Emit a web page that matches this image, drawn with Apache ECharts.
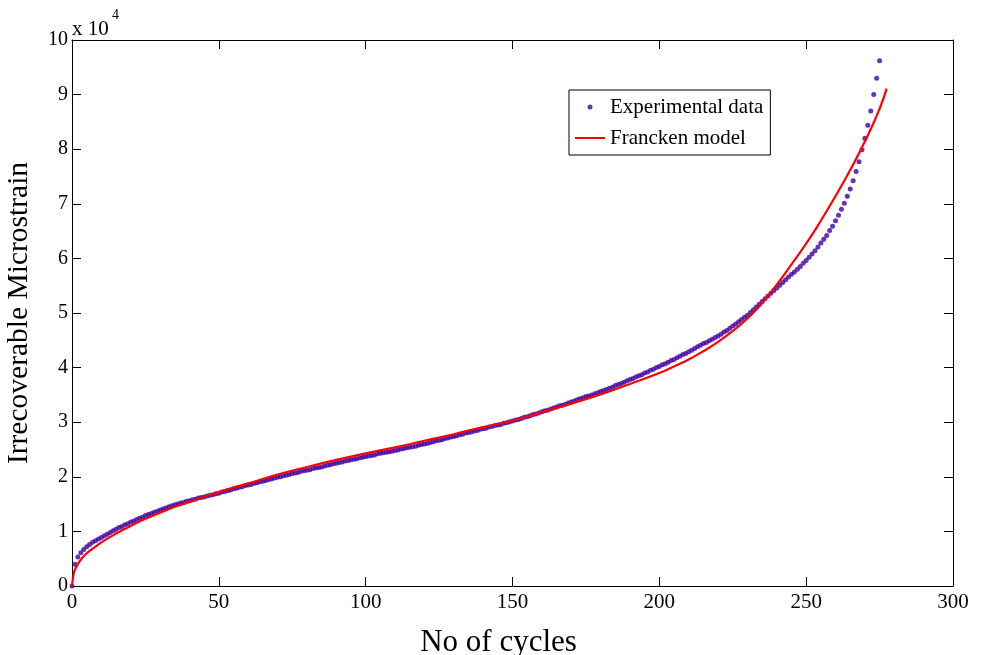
<!DOCTYPE html>
<html>
<head>
<meta charset="utf-8">
<script src="https://cdn.jsdelivr.net/npm/echarts@6/dist/echarts.min.js"></script>
<style>
    html, body { margin: 0; padding: 0; background: #fff; }
    #main { width: 984px; height: 655px; }
</style>
</head>
<body>
<div id="main"></div>
<script>
// experimental data, one dot per cycle (0..275), values in units of 10^4 microstrain
var expStrain = [
    0, 0.40, 0.53, 0.61, 0.67, 0.72, 0.76, 0.80, 0.83, 0.86, 0.89,
    0.92, 0.95, 0.98, 1.01, 1.04, 1.07, 1.09, 1.12, 1.14, 1.17,
    1.19, 1.22, 1.24, 1.26, 1.29, 1.31, 1.33, 1.35, 1.37, 1.39,
    1.41, 1.43, 1.45, 1.47, 1.49, 1.50, 1.52, 1.53, 1.55, 1.56,
    1.58, 1.59, 1.61, 1.62, 1.63, 1.65, 1.66, 1.67, 1.69, 1.70,
    1.72, 1.73, 1.75, 1.76, 1.78, 1.79, 1.81, 1.82, 1.84, 1.85,
    1.86, 1.88, 1.89, 1.91, 1.92, 1.93, 1.95, 1.96, 1.98, 1.99,
    2.00, 2.02, 2.03, 2.04, 2.06, 2.07, 2.08, 2.10, 2.11, 2.12,
    2.13, 2.15, 2.16, 2.17, 2.18, 2.20, 2.21, 2.22, 2.24, 2.25,
    2.26, 2.27, 2.29, 2.30, 2.31, 2.32, 2.33, 2.35, 2.36, 2.37,
    2.38, 2.39, 2.40, 2.42, 2.43, 2.44, 2.45, 2.46, 2.47, 2.48,
    2.49, 2.51, 2.52, 2.53, 2.54, 2.55, 2.56, 2.58, 2.59, 2.60,
    2.61, 2.63, 2.64, 2.66, 2.67, 2.68, 2.70, 2.71, 2.73, 2.74,
    2.75, 2.77, 2.78, 2.80, 2.81, 2.82, 2.84, 2.85, 2.87, 2.88,
    2.89, 2.91, 2.92, 2.94, 2.95, 2.96, 2.98, 2.99, 3.01, 3.02,
    3.04, 3.05, 3.07, 3.09, 3.10, 3.12, 3.14, 3.15, 3.17, 3.19,
    3.21, 3.22, 3.24, 3.26, 3.28, 3.30, 3.31, 3.33, 3.35, 3.37,
    3.39, 3.41, 3.43, 3.45, 3.47, 3.48, 3.50, 3.52, 3.54, 3.56,
    3.58, 3.60, 3.62, 3.64, 3.67, 3.69, 3.71, 3.73, 3.76, 3.78,
    3.80, 3.83, 3.85, 3.87, 3.90, 3.92, 3.95, 3.97, 4.00, 4.02,
    4.05, 4.07, 4.10, 4.13, 4.15, 4.18, 4.21, 4.24, 4.26, 4.29,
    4.32, 4.35, 4.38, 4.41, 4.44, 4.46, 4.49, 4.52, 4.55, 4.58,
    4.61, 4.65, 4.68, 4.72, 4.76, 4.80, 4.84, 4.88, 4.92, 4.96,
    5.01, 5.06, 5.11, 5.16, 5.21, 5.26, 5.31, 5.36, 5.41, 5.46,
    5.51, 5.56, 5.61, 5.66, 5.71, 5.75, 5.80, 5.85, 5.91, 5.96,
    6.02, 6.08, 6.14, 6.21, 6.28, 6.35, 6.42, 6.51, 6.59, 6.69,
    6.79, 6.90, 7.01, 7.14, 7.27, 7.42, 7.59, 7.77, 7.99, 8.20,
    8.44, 8.70, 9.00, 9.30, 9.62
];

// Francken model curve
var modelCycles = [0, 0.5, 1, 2, 3, 5, 8, 10, 15, 20, 25, 30, 35, 40, 45, 50,
    60, 70, 80, 90, 100, 110, 120, 130, 140, 150, 160, 170, 180, 190, 200,
    205, 210, 215, 220, 225, 230, 235, 240, 245, 250, 255, 260, 265, 270, 275, 277.4];
var modelStrain = [0, 0.20, 0.30, 0.40, 0.48, 0.60, 0.72, 0.80, 0.96, 1.10, 1.23, 1.34, 1.45, 1.54, 1.63, 1.72,
    1.88, 2.04, 2.18, 2.31, 2.43, 2.54, 2.66, 2.78, 2.91, 3.03, 3.18, 3.34, 3.51, 3.70, 3.90,
    4.02, 4.15, 4.30, 4.47, 4.67, 4.90, 5.18, 5.52, 5.89, 6.27, 6.69, 7.14, 7.62, 8.14, 8.74, 9.11];

var xTicks = [0, 50, 100, 150, 200, 250, 300];
var yTicks = [0, 1, 2, 3, 4, 5, 6, 7, 8, 9, 10];

var font = "'Liberation Serif', 'Times New Roman', serif";

var expData = expStrain.map(function(v, i) { return [i, v]; });
var modelData = modelCycles.map(function(c, i) { return [c, modelStrain[i]]; });

var myChart = echarts.init(document.getElementById('main'));

var axisCommon = {
    axisLine: { show: true, onZero: false, lineStyle: { color: '#000', width: 1 } },
    axisTick: { show: true, inside: true, length: 9, lineStyle: { color: '#000', width: 1 } },
    splitLine: { show: false }
};

var option = {
    animation: false,
    backgroundColor: '#fff',
    textStyle: { fontFamily: font },
    grid: { left: 72, top: 40, right: 31, bottom: 69, containLabel: false, outerBoundsMode: 'none' },
    graphic: [
        { type: 'text', left: 72, top: 19, style: { text: 'x 10', font: '21px ' + font, fill: '#000' } },
        { type: 'text', left: 112, top: 8, style: { text: '4', font: '14px ' + font, fill: '#000' } }
    ],
    legend: {
        orient: 'vertical',
        left: 569,
        top: 90,
        padding: [6, 7, 6, 6],
        itemWidth: 30,
        itemHeight: 5,
        itemGap: 9,
        borderColor: '#000',
        borderWidth: 1,
        backgroundColor: '#fff',
        textStyle: { fontFamily: font, fontSize: 21, color: '#000', lineHeight: 22 },
        data: [
            { name: 'Experimental data', icon: 'circle' },
            { name: 'Francken model', icon: 'path://M0,0L30,0L30,2L0,2Z' }
        ]
    },
    xAxis: [
        Object.assign({
            type: 'value', min: 0, max: 300, interval: 50, position: 'bottom',
            name: 'No of cycles', nameLocation: 'middle', nameGap: 41,
            nameTextStyle: { fontFamily: font, fontSize: 31, color: '#000', padding: [0, 28, 0, 0] },
            axisLabel: { fontFamily: font, fontSize: 21, color: '#000', margin: 6,
                formatter: function(v) { return xTicks.indexOf(v) >= 0 ? String(v) : ''; } }
        }, axisCommon),
        Object.assign({
            type: 'value', min: 0, max: 300, interval: 50, position: 'top',
            axisLabel: { show: false }
        }, axisCommon)
    ],
    yAxis: [
        Object.assign({
            type: 'value', min: 0, max: 10, interval: 1, position: 'left',
            name: 'Irrecoverable Microstrain', nameLocation: 'middle', nameGap: 38,
            nameTextStyle: { fontFamily: font, fontSize: 29.5, color: '#000' },
            axisLabel: { fontFamily: font, fontSize: 20, color: '#000', margin: 4,
                formatter: function(v) { return yTicks.indexOf(v) >= 0 ? String(v) : ''; } }
        }, axisCommon),
        Object.assign({
            type: 'value', min: 0, max: 10, interval: 1, position: 'right',
            axisLabel: { show: false }
        }, axisCommon)
    ],
    series: [
        {
            name: 'Experimental data',
            type: 'scatter',
            xAxisIndex: 0,
            yAxisIndex: 0,
            symbol: 'circle',
            symbolSize: 5,
            itemStyle: { color: '#4000a0' },
            data: expData
        },
        {
            name: 'Francken model',
            type: 'line',
            xAxisIndex: 0,
            yAxisIndex: 0,
            smooth: 0.5,
            showSymbol: false,
            symbol: 'none',
            lineStyle: { color: '#ff0000', width: 2.2 },
            itemStyle: { color: '#ff0000' },
            data: modelData
        }
    ]
};

myChart.setOption(option);
</script>
</body>
</html>
